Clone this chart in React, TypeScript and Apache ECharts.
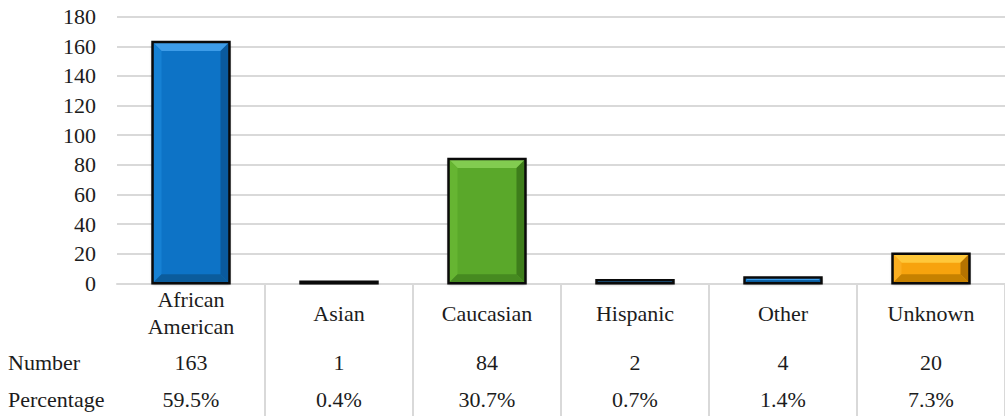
import React, { useEffect, useRef } from "react";
import * as echarts from "echarts";

// Race / ethnicity breakdown
const categories = ["African\nAmerican", "Asian", "Caucasian", "Hispanic", "Other", "Unknown"];
const counts = [163, 1, 84, 2, 4, 20];
const percentages = ["59.5%", "0.4%", "30.7%", "0.7%", "1.4%", "7.3%"];
const rowHeaders = ["Number", "Percentage"];
const yMin = 0;
const yMax = 180;
const yStep = 20;

// Bevel shades per bar: [face, top, left, right, bottom]
const BLUE = ["#0a73c6", "#3d9ce8", "#1681d4", "#0a5a9e", "#0b5c9c"];
const GREEN = ["#5aa82a", "#82cc50", "#66b532", "#3e7d1b", "#468a20"];
const ORANGE = ["#f7a30e", "#ffc83a", "#fbae20", "#b57300", "#c68100"];
const barShades = [BLUE, BLUE, GREEN, BLUE, BLUE, ORANGE];

const FONT = "Liberation Serif";
const TEXT = "#1c1c1c";
const GRID = "#d9d9d9";

export default function App() {
  const ref = useRef<HTMLDivElement>(null);

  useEffect(() => {
    if (!ref.current) return;
    const chart = echarts.init(ref.current, null, { renderer: "svg" });

    const labelBase = {
      interval: 0,
      fontSize: 22,
      fontFamily: FONT,
      color: TEXT,
      verticalAlign: "middle" as const,
      lineHeight: 27,
    };

    chart.setOption({
      animation: false,
      textStyle: { fontFamily: FONT },
      grid: { left: 117, top: 16.7, width: 891.6, height: 266.6, containLabel: false },
      xAxis: [
        {
          type: "category",
          data: categories,
          position: "bottom",
          axisLine: { show: true, lineStyle: { color: GRID, width: 2 } },
          axisTick: {
            show: true,
            length: 133,
            interval: (i: number) => i > 0,
            lineStyle: { color: GRID, width: 2 },
          },
          axisLabel: { ...labelBase, margin: 30 },
        },
        {
          type: "category",
          data: categories,
          position: "bottom",
          axisLine: { show: false },
          axisTick: { show: false },
          axisLabel: { ...labelBase, margin: 79, formatter: (_v: string, i: number) => String(counts[i]) },
        },
        {
          type: "category",
          data: categories,
          position: "bottom",
          axisLine: { show: false },
          axisTick: { show: false },
          axisLabel: { ...labelBase, margin: 116, formatter: (_v: string, i: number) => percentages[i] },
        },
      ],
      yAxis: {
        type: "value",
        min: yMin,
        max: yMax,
        interval: yStep,
        axisLine: { show: false },
        axisTick: { show: false },
        axisLabel: { fontSize: 22, fontFamily: FONT, color: TEXT, margin: 21 },
        splitLine: { show: true, lineStyle: { color: GRID, width: 2 } },
      },
      graphic: rowHeaders.map((t, k) => ({
        type: "text",
        x: 8,
        y: k === 0 ? 362 : 399,
        style: { text: t, fontSize: 22, fontFamily: FONT, fill: TEXT, verticalAlign: "middle" },
      })),
      series: [
        {
          type: "custom",
          xAxisIndex: 0,
          yAxisIndex: 0,
          encode: { x: 0, y: 1 },
          data: counts.map((v, i) => [i, v]),
          renderItem: (_params: any, api: any) => {
            const i = api.value(0);
            const v = api.value(1);
            const top = api.coord([i, v]);
            const base = api.coord([i, 0]);
            const band = api.size([1, 0])[0];
            const w = band * 0.52;
            const x0 = top[0] - w / 2;
            const x1 = top[0] + w / 2;
            const y0 = top[1];
            const y1 = base[1];
            const h = y1 - y0;
            const b = Math.min(9, h / 2, w / 2);
            const s = barShades[i];
            return {
              type: "group",
              children: [
                {
                  type: "rect",
                  shape: { x: x0, y: y0, width: w, height: h },
                  style: { fill: s[0], shadowBlur: 3, shadowColor: "rgba(0,0,0,0.35)", shadowOffsetY: 1 },
                },
                {
                  type: "polygon",
                  shape: { points: [[x0, y0], [x1, y0], [x1 - b, y0 + b], [x0 + b, y0 + b]] },
                  style: { fill: s[1] },
                },
                {
                  type: "polygon",
                  shape: { points: [[x0, y0], [x0 + b, y0 + b], [x0 + b, y1 - b], [x0, y1]] },
                  style: { fill: s[2] },
                },
                {
                  type: "polygon",
                  shape: { points: [[x1, y0], [x1 - b, y0 + b], [x1 - b, y1 - b], [x1, y1]] },
                  style: { fill: s[3] },
                },
                {
                  type: "polygon",
                  shape: { points: [[x0, y1], [x1, y1], [x1 - b, y1 - b], [x0 + b, y1 - b]] },
                  style: { fill: s[4] },
                },
                {
                  type: "rect",
                  shape: { x: x0, y: y0, width: w, height: h },
                  style: { fill: "none", stroke: "#0a0a0a", lineWidth: 2.5 },
                },
              ],
            };
          },
        },
      ],
    });

    return () => chart.dispose();
  }, []);

  return (
    <div
      ref={ref}
      style={{ position: "fixed", left: 0, top: 0, width: 1005, height: 416, background: "#fff" }}
    />
  );
}
